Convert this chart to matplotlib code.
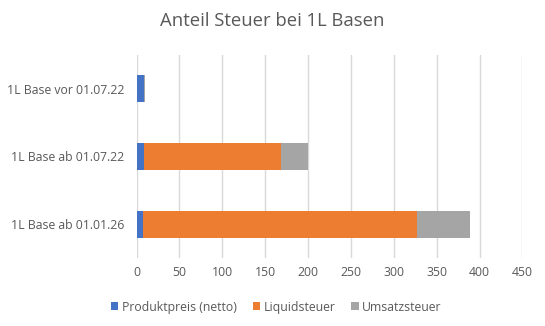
import matplotlib
matplotlib.use("Agg")
import matplotlib.pyplot as plt

categories = ["1L Base ab 01.01.26", "1L Base ab 01.07.22", "1L Base vor 01.07.22"]
produktpreis = [7.0, 8.4, 8.4]
liquidsteuer = [320.0, 160.0, 0.0]
umsatzsteuer = [62.1, 32.0, 1.6]
series_names = ["Produktpreis (netto)", "Liquidsteuer", "Umsatzsteuer"]
colors = ["#4472C4", "#ED7D31", "#A5A5A5"]
xticks = list(range(0, 451, 50))

plt.rcParams['font.family'] = ['Open Sans', 'DejaVu Sans']
txt = "#595959"

fig = plt.figure(figsize=(5.45, 3.26), dpi=100)
ax = fig.add_axes([0.2505, 0.209, 0.9585 - 0.2505, 0.831 - 0.209])

y = list(range(len(categories)))
left = [0.0] * len(categories)
for vals, name, c in zip([produktpreis, liquidsteuer, umsatzsteuer], series_names, colors):
    ax.barh(y, vals, left=left, height=0.4, color=c, label=name, zorder=3)
    left = [l + v for l, v in zip(left, vals)]

ax.set_xlim(0, 450)
ax.set_ylim(-0.5, 2.5)
ax.set_xticks(xticks)
ax.set_yticks(y)
ax.set_yticklabels(categories)
ax.grid(axis='x', color='#D9D9D9', linewidth=1, zorder=0)
for s in ax.spines.values():
    s.set_visible(False)
ax.tick_params(axis='both', length=0, colors=txt, labelsize=8.8)
ax.tick_params(axis='y', pad=9)
ax.tick_params(axis='x', pad=6)

fig.text(0.5, 0.935, "Anteil Steuer bei 1L Basen", ha='center', va='center', fontsize=13.3, color=txt)
leg = fig.legend(loc='center', bbox_to_anchor=(0.507, 0.058), ncol=3, frameon=False,
                 fontsize=8.8, handlelength=0.6, handleheight=0.6, handletextpad=0.3,
                 columnspacing=1.3)
for t in leg.get_texts():
    t.set_color(txt)

fig.savefig("out.png", dpi=100, facecolor='white')
